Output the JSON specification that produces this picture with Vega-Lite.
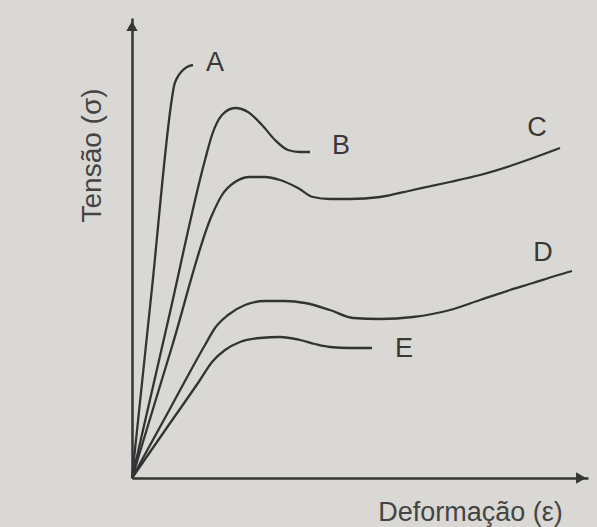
{
  "$schema": "https://vega.github.io/schema/vega-lite/v6.json",
  "width": 456,
  "height": 460,
  "autosize": {"type": "none"},
  "padding": {"left": 132, "top": 18, "right": 9, "bottom": 49},
  "background": "#dad8d4",
  "config": {"view": {"stroke": null}, "font": "Liberation Sans"},
  "datasets": {
    "curves": [
      {"curve": "A", "x": 0, "y": 0}, {"curve": "A", "x": 20, "y": 190}, {"curve": "A", "x": 40, "y": 380}, {"curve": "A", "x": 42, "y": 392}, {"curve": "A", "x": 45, "y": 400}, {"curve": "A", "x": 50, "y": 407}, {"curve": "A", "x": 55, "y": 411}, {"curve": "A", "x": 61, "y": 413},
      {"curve": "B", "x": 0, "y": 0}, {"curve": "B", "x": 36.5, "y": 159}, {"curve": "B", "x": 73, "y": 318}, {"curve": "B", "x": 80, "y": 343}, {"curve": "B", "x": 90, "y": 363}, {"curve": "B", "x": 103, "y": 370}, {"curve": "B", "x": 116, "y": 366}, {"curve": "B", "x": 130, "y": 353}, {"curve": "B", "x": 143, "y": 338}, {"curve": "B", "x": 156, "y": 328}, {"curve": "B", "x": 168, "y": 326}, {"curve": "B", "x": 178, "y": 326},
      {"curve": "C", "x": 0, "y": 0}, {"curve": "C", "x": 40, "y": 131.5}, {"curve": "C", "x": 80, "y": 263}, {"curve": "C", "x": 90, "y": 283}, {"curve": "C", "x": 103, "y": 296}, {"curve": "C", "x": 118, "y": 301}, {"curve": "C", "x": 133, "y": 301}, {"curve": "C", "x": 148, "y": 298}, {"curve": "C", "x": 166, "y": 290}, {"curve": "C", "x": 181, "y": 281}, {"curve": "C", "x": 198, "y": 279}, {"curve": "C", "x": 218, "y": 279}, {"curve": "C", "x": 248, "y": 281}, {"curve": "C", "x": 281, "y": 288}, {"curve": "C", "x": 318, "y": 296}, {"curve": "C", "x": 348, "y": 303}, {"curve": "C", "x": 378, "y": 312}, {"curve": "C", "x": 401, "y": 320}, {"curve": "C", "x": 428, "y": 330},
      {"curve": "D", "x": 0, "y": 0}, {"curve": "D", "x": 36.5, "y": 66.5}, {"curve": "D", "x": 73, "y": 133}, {"curve": "D", "x": 83, "y": 150}, {"curve": "D", "x": 96, "y": 163}, {"curve": "D", "x": 113, "y": 173}, {"curve": "D", "x": 133, "y": 177}, {"curve": "D", "x": 153, "y": 177}, {"curve": "D", "x": 173, "y": 175}, {"curve": "D", "x": 198, "y": 168}, {"curve": "D", "x": 221, "y": 160}, {"curve": "D", "x": 248, "y": 159}, {"curve": "D", "x": 281, "y": 161}, {"curve": "D", "x": 318, "y": 168}, {"curve": "D", "x": 348, "y": 178}, {"curve": "D", "x": 378, "y": 188}, {"curve": "D", "x": 401, "y": 195}, {"curve": "D", "x": 423, "y": 202}, {"curve": "D", "x": 440, "y": 207},
      {"curve": "E", "x": 0, "y": 0}, {"curve": "E", "x": 34, "y": 49}, {"curve": "E", "x": 68, "y": 98}, {"curve": "E", "x": 80, "y": 116}, {"curve": "E", "x": 93, "y": 128}, {"curve": "E", "x": 108, "y": 136}, {"curve": "E", "x": 128, "y": 140}, {"curve": "E", "x": 148, "y": 141}, {"curve": "E", "x": 168, "y": 138}, {"curve": "E", "x": 183, "y": 134}, {"curve": "E", "x": 198, "y": 131}, {"curve": "E", "x": 218, "y": 130}, {"curve": "E", "x": 240, "y": 130}
    ],
    "labels": [
      {"label": "A", "x": 83, "y": 415},
      {"label": "B", "x": 209, "y": 332},
      {"label": "C", "x": 405, "y": 350},
      {"label": "D", "x": 411, "y": 225},
      {"label": "E", "x": 272, "y": 129}
    ],
    "arrows": [
      {"x": 0, "y": 452, "shape": "triangle-up"},
      {"x": 449, "y": 0, "shape": "triangle-right"}
    ]
  },
  "encoding": {
    "x": {
      "field": "x", "type": "quantitative",
      "scale": {"domain": [0, 456], "nice": false, "zero": false},
      "axis": {
        "title": "Deformação (ε)", "ticks": false, "labels": false, "grid": false,
        "domainColor": "#353535", "domainWidth": 2.5,
        "titleFontSize": 27, "titleFontWeight": "normal", "titleColor": "#444444",
        "titleX": 338, "titleY": 34, "titleAlign": "center", "titleBaseline": "middle"
      }
    },
    "y": {
      "field": "y", "type": "quantitative",
      "scale": {"domain": [0, 460], "nice": false, "zero": false},
      "axis": {
        "title": "Tensão (σ)", "ticks": false, "labels": false, "grid": false,
        "domainColor": "#353535", "domainWidth": 2.5,
        "titleFontSize": 28, "titleFontWeight": "normal", "titleColor": "#444444",
        "titleAngle": -90, "titleX": -40, "titleY": 137, "titleAlign": "center", "titleBaseline": "middle"
      }
    }
  },
  "layer": [
    {
      "data": {"name": "curves"},
      "mark": {"type": "line", "interpolate": "monotone", "color": "#333333", "strokeWidth": 2.3},
      "encoding": {"detail": {"field": "curve", "type": "nominal"}}
    },
    {
      "data": {"name": "labels"},
      "mark": {"type": "text", "fontSize": 27, "color": "#383838", "align": "center", "baseline": "middle"},
      "encoding": {"text": {"field": "label", "type": "nominal"}}
    },
    {
      "data": {"name": "arrows"},
      "mark": {"type": "point", "filled": true, "color": "#353535", "opacity": 1, "size": 130},
      "encoding": {"shape": {"field": "shape", "type": "nominal", "scale": null}}
    }
  ]
}
